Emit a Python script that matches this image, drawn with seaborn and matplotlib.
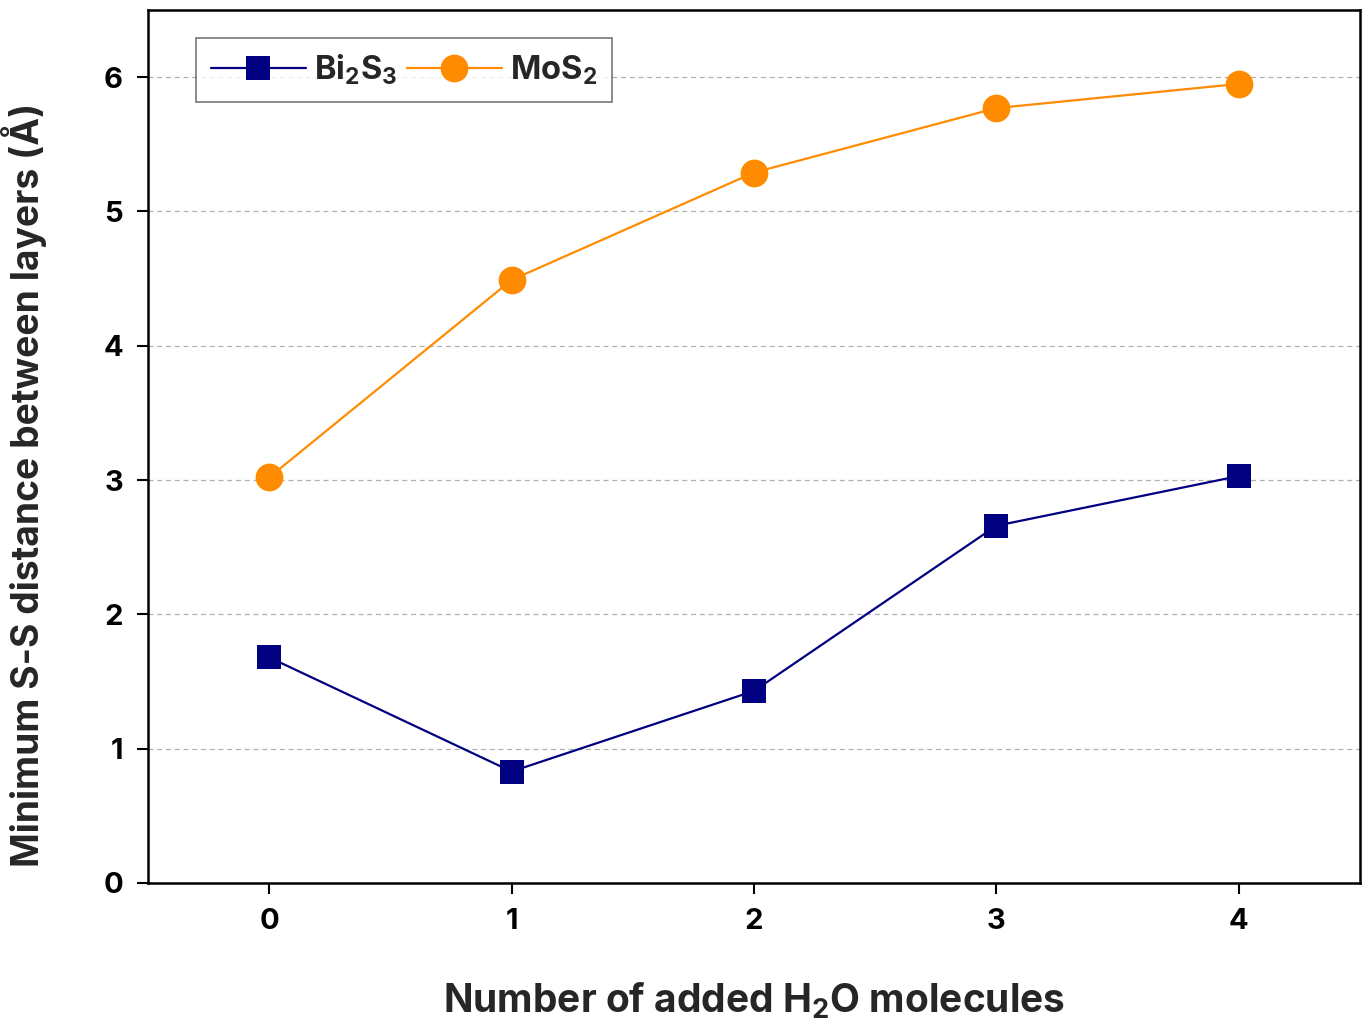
import matplotlib
matplotlib.use("Agg")
import matplotlib.pyplot as plt
import seaborn as sns
import pandas as pd

n_water = [0, 1, 2, 3, 4]
bi2s3 = [1.68, 0.83, 1.43, 2.66, 3.03]
mos2 = [3.02, 4.49, 5.29, 5.77, 5.95]
yticks = [0, 1, 2, 3, 4, 5, 6]

sns.set_theme(style="ticks")
plt.rcParams['font.family'] = ['Inter', 'DejaVu Sans']
plt.rcParams['font.weight'] = 'bold'
plt.rcParams['mathtext.fontset'] = 'custom'
plt.rcParams['mathtext.rm'] = 'Inter:bold'
plt.rcParams['mathtext.bf'] = 'Inter:bold'
plt.rcParams['mathtext.it'] = 'Inter:bold'
plt.rcParams['mathtext.default'] = 'rm'

df_bi = pd.DataFrame({'n': n_water, 'd': bi2s3})
df_mo = pd.DataFrame({'n': n_water, 'd': mos2})

fig = plt.figure(figsize=(13.7, 10.36), dpi=100)
ax = fig.add_axes([0.108, 0.1477, 0.8847, 0.8426])

ax.grid(axis='y', linestyle=(0, (4, 3)), color='#b0b0b0', linewidth=0.9)
ax.set_axisbelow(True)

sns.lineplot(data=df_bi, x='n', y='d', ax=ax, color='#000080', marker='s',
             markersize=17, linewidth=1.6, markeredgewidth=0,
             label=r'Bi$_2$S$_3$')
sns.lineplot(data=df_mo, x='n', y='d', ax=ax, color='#FF8C00', marker='o',
             markersize=20, linewidth=1.6, markeredgewidth=0,
             label=r'MoS$_2$')

ax.set_xlim(-0.5, 4.5)
ax.set_ylim(0, 6.5)
ax.set_xticks(n_water)
ax.set_yticks(yticks)
ax.tick_params(axis='both', labelsize=21, direction='out', length=8, width=1.5,
               colors='black', pad=10)
for lab in ax.get_xticklabels() + ax.get_yticklabels():
    lab.set_fontweight('bold')
for s in ax.spines.values():
    s.set_linewidth(1.8)
    s.set_color('black')

ax.set_xlabel(r'Number of added H$_2$O molecules', fontsize=28, fontweight='bold', labelpad=33)
ax.set_ylabel('Minimum S-S distance between layers (Å)', fontsize=26.8,
              fontweight='bold')
ax.yaxis.set_label_coords(-0.083, 0.456)

leg = ax.legend(loc='upper left', ncol=2, fontsize=23.5, frameon=True, fancybox=False,
                handlelength=2.9, columnspacing=0.3, handletextpad=0.25,
                borderaxespad=0.0, borderpad=0.45, bbox_to_anchor=(0.04, 0.968))
leg.get_frame().set_edgecolor('#555555')
leg.get_frame().set_linewidth(1.2)
for t in leg.get_texts():
    t.set_fontweight('bold')

fig.savefig('out.png', dpi=100)
